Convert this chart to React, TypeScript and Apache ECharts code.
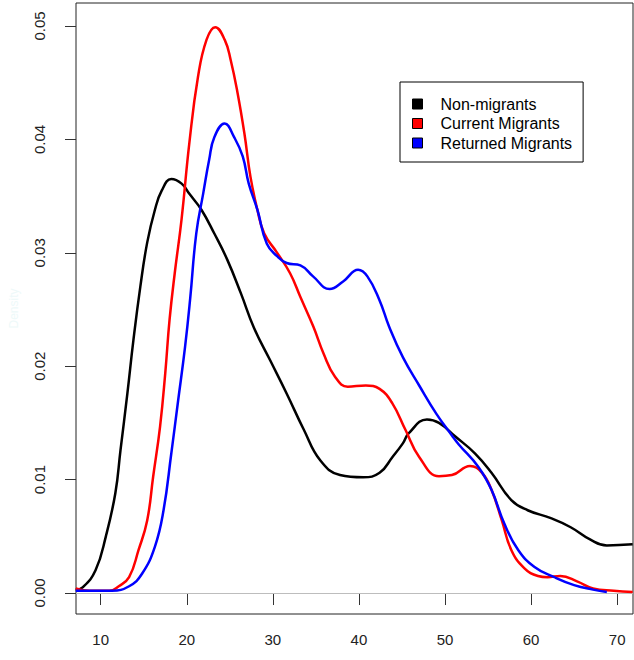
import React, { useEffect, useRef } from "react";
import * as echarts from "echarts";

const seriesNames = ["Non-migrants", "Current Migrants", "Returned Migrants"];
const seriesColors = ["#000000", "#ff0000", "#0000ff"];

const xTicks = [10, 20, 30, 40, 50, 60, 70];
const yTicks = [0, 0.01, 0.02, 0.03, 0.04, 0.05];

const nonMigrants: [number, number][] = [
  [7.1, 0.0003], [7.9, 0.0005], [9.4, 0.002], [10.6, 0.005], [11.7, 0.0088], [12.3, 0.0126],
  [13.1, 0.0176], [13.8, 0.0223], [14.6, 0.027], [15.4, 0.0309], [16.3, 0.0338], [17.1, 0.0355],
  [18.2, 0.0365], [19.4, 0.0361], [20.3, 0.0352], [21.7, 0.0338], [23.2, 0.0317], [24.7, 0.0294],
  [26.3, 0.0264], [27.8, 0.0234], [29.7, 0.0205], [31.6, 0.0176], [33.6, 0.0144], [35.5, 0.0117],
  [37.8, 0.0104], [40.5, 0.0102], [42.4, 0.0106], [43.9, 0.012], [45.1, 0.0132], [45.8, 0.0141],
  [47.9, 0.0153], [49.3, 0.015], [51.2, 0.0138], [53.5, 0.0123], [55.4, 0.0106], [57.7, 0.0082],
  [59.6, 0.0073], [62.3, 0.0066], [64.6, 0.0058], [66.9, 0.0047], [68.8, 0.0042], [71.8, 0.0043],
];

const currentMigrants: [number, number][] = [
  [7.1, 0.0004], [8.7, 0.0002], [11.0, 0.0002], [12.1, 0.0006], [13.3, 0.0014], [14.4, 0.0038],
  [15.4, 0.0064], [16.1, 0.0103], [16.9, 0.0147], [17.5, 0.0194], [18.0, 0.0241], [18.6, 0.0282],
  [19.4, 0.033], [20.3, 0.0397], [21.3, 0.0455], [22.3, 0.0488], [23.3, 0.0499], [24.4, 0.0488],
  [25.1, 0.047], [25.9, 0.0441], [26.7, 0.0405], [27.4, 0.0367], [28.2, 0.0338], [29.0, 0.0317],
  [30.5, 0.03], [32.0, 0.0282], [33.2, 0.0261], [34.7, 0.0235], [35.9, 0.0211], [37.2, 0.0191],
  [38.7, 0.0182], [40.8, 0.0183], [42.4, 0.018], [43.9, 0.0167], [45.4, 0.0144], [47.0, 0.012],
  [49.3, 0.0103], [50.8, 0.0104], [52.9, 0.0112], [54.3, 0.0106], [55.4, 0.0091], [56.6, 0.0064],
  [57.7, 0.0038], [59.2, 0.0022], [60.8, 0.0015], [61.9, 0.0014], [63.4, 0.0015], [65.4, 0.001],
  [67.2, 0.0004], [69.6, 0.0002], [71.8, 0.0001],
];

const returnedMigrants: [number, number][] = [
  [7.1, 0.0002], [11.3, 0.0002], [13.3, 0.0006], [14.8, 0.0017], [16.3, 0.0041], [17.3, 0.0073],
  [18.2, 0.0123], [19.0, 0.017], [19.8, 0.0217], [20.4, 0.026], [21.1, 0.0317], [21.9, 0.0352],
  [22.6, 0.0382], [23.2, 0.0402], [24.4, 0.0414], [25.5, 0.0402], [26.5, 0.0385], [27.2, 0.0361],
  [28.2, 0.0338], [29.3, 0.0308], [30.5, 0.0297], [31.6, 0.0291], [33.2, 0.0289], [34.7, 0.0279],
  [36.6, 0.0268], [38.2, 0.0275], [39.9, 0.0285], [41.0, 0.0279], [42.4, 0.0258], [43.5, 0.0235],
  [45.1, 0.0208], [47.0, 0.0183], [49.0, 0.0158], [50.8, 0.0139], [51.6, 0.0131], [53.9, 0.0111],
  [55.4, 0.0091], [56.9, 0.0061], [58.5, 0.0038], [60.4, 0.0023], [62.7, 0.0014], [65.0, 0.0007],
  [67.2, 0.0003], [68.8, 0.0001],
];

const allSeries = [nonMigrants, currentMigrants, returnedMigrants];

export default function App() {
  const ref = useRef<HTMLDivElement>(null);
  useEffect(() => {
    if (!ref.current) return;
    const chart = echarts.init(ref.current, null, { renderer: "svg" });
    const font = "'Liberation Sans', Arial, sans-serif";
    chart.setOption({
      animation: false,
      backgroundColor: "#ffffff",
      grid: {
        left: 70,
        top: 3,
        right: 1,
        bottom: 46,
        show: true,
        borderColor: "#222",
        borderWidth: 1,
        backgroundColor: "transparent",
      },
      legend: {
        left: 400,
        top: 82,
        orient: "vertical",
        padding: [14, 11, 11, 12],
        borderColor: "#000",
        borderWidth: 1,
        borderRadius: 0,
        backgroundColor: "#fff",
        itemWidth: 10,
        itemHeight: 10,
        itemGap: 3.5,
        icon: "rect",
        itemStyle: { borderColor: "#000", borderWidth: 1 },
        textStyle: {
          fontFamily: font,
          fontSize: 16,
          lineHeight: 16,
          color: "#000",
          padding: [0, 0, 0, 13],
        },
        data: seriesNames,
        selectedMode: false,
      },
      xAxis: {
        type: "value",
        min: 7.13,
        max: 71.84,
        axisLine: { show: false },
        splitLine: { show: false },
        axisTick: {
          show: true,
          customValues: xTicks,
          length: 12,
          lineStyle: { color: "#333", width: 1 },
        },
        axisLabel: {
          customValues: xTicks,
          margin: 18,
          fontFamily: font,
          fontSize: 15,
          color: "#222",
        },
      },
      yAxis: {
        type: "value",
        min: -0.00185,
        max: 0.05203,
        name: "Density",
        nameLocation: "middle",
        nameRotate: 90,
        nameGap: 56,
        nameTextStyle: { color: "#eef9f9", fontFamily: font, fontSize: 12 },
        axisLine: { show: false },
        splitLine: { show: false },
        axisTick: {
          show: true,
          customValues: yTicks,
          length: 11,
          lineStyle: { color: "#333", width: 1 },
        },
        axisLabel: {
          customValues: yTicks,
          rotate: 90,
          margin: 29,
          fontFamily: font,
          fontSize: 15,
          color: "#222",
          formatter: (v: number) => v.toFixed(2),
        },
      },
      series: allSeries.map((d, i) => ({
        name: seriesNames[i],
        type: "line",
        data: d,
        smooth: 0.45,
        symbol: "none",
        color: seriesColors[i],
        lineStyle: { color: seriesColors[i], width: 2.5 },
        itemStyle: { color: seriesColors[i] },
        z: 3,
        ...(i === 0
          ? {
              markLine: {
                silent: true,
                symbol: "none",
                label: { show: false },
                lineStyle: { color: "#bdbdbd", type: "solid", width: 1 },
                data: [{ yAxis: 0 }],
                z: 1,
              },
            }
          : {}),
      })),
    });
    return () => chart.dispose();
  }, []);
  return (
    <div
      ref={ref}
      style={{ position: "absolute", left: 0, top: 0, width: 634, height: 660 }}
    />
  );
}
